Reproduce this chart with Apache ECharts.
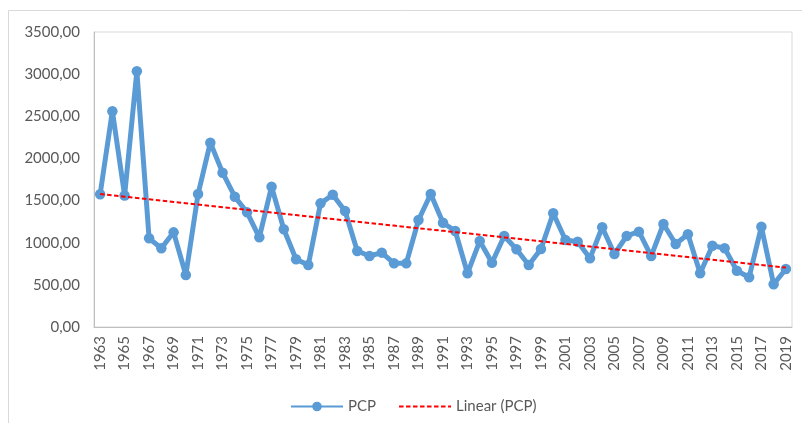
<!DOCTYPE html>
<html>
<head>
<meta charset="utf-8">
<script src="https://cdn.jsdelivr.net/npm/echarts@6/dist/echarts.min.js"></script>
<style>
  html, body { margin: 0; padding: 0; background: #fff; }
  #chart { width: 802px; height: 423px; }
</style>
</head>
<body>
<div id="chart"></div>
<script>
// Annual precipitation (PCP), 1963–2019
const years = [
  '1963','1964','1965','1966','1967','1968','1969','1970','1971','1972',
  '1973','1974','1975','1976','1977','1978','1979','1980','1981','1982',
  '1983','1984','1985','1986','1987','1988','1989','1990','1991','1992',
  '1993','1994','1995','1996','1997','1998','1999','2000','2001','2002',
  '2003','2004','2005','2006','2007','2008','2009','2010','2011','2012',
  '2013','2014','2015','2016','2017','2018','2019'
];
const pcp = [
  1575, 2560, 1560, 3035, 1052, 934, 1123, 617, 1578, 2187,
  1831, 1546, 1360, 1064, 1665, 1159, 803, 736, 1467, 1570,
  1376, 902, 842, 882, 755, 755, 1269, 1578, 1237, 1139,
  637, 1020, 763, 1080, 922, 736, 925, 1349, 1032, 1012,
  815, 1183, 866, 1080, 1131, 842, 1222, 985, 1100, 637,
  965, 934, 668, 590, 1190, 507, 688
];
const yTicks = { min: 0, max: 3500, step: 500 };

// Least-squares linear trend of the PCP series
function linearTrend(vals) {
  const n = vals.length;
  let sx = 0, sy = 0, sxx = 0, sxy = 0;
  vals.forEach((v, i) => { sx += i; sy += v; sxx += i * i; sxy += i * v; });
  const b = (n * sxy - sx * sy) / (n * sxx - sx * sx);
  const a = (sy - b * sx) / n;
  return vals.map((_, i) => a + b * i);
}
const trend = linearTrend(pcp);

const font = 'Lato, "Open Sans", sans-serif';
const textGray = '#595959';
const chart = echarts.init(document.getElementById('chart'));
chart.setOption({
  animation: false,
  backgroundColor: '#fff',
  graphic: [{
    type: 'rect',
    shape: { x: 8.5, y: 10.5, width: 820, height: 430 },
    style: { fill: 'none', stroke: '#d9d9d9', lineWidth: 1 },
    silent: true
  }],
  grid: {
    left: 94, right: 10, top: 32, bottom: 96,
    show: true, borderColor: '#d9d9d9', borderWidth: 1, backgroundColor: 'transparent'
  },
  legend: {
    left: 285, top: 394,
    itemWidth: 52, itemHeight: 12, itemGap: 22,
    textStyle: { fontFamily: font, fontSize: 15, color: textGray },
    data: [
      { name: 'PCP' },
      { name: 'Linear (PCP)', itemStyle: { opacity: 0 } }
    ]
  },
  xAxis: {
    type: 'category',
    data: years,
    boundaryGap: true,
    axisLine: { lineStyle: { color: '#bfbfbf', width: 1 } },
    axisTick: { show: false },
    axisLabel: {
      interval: 1, rotate: 90, margin: 9,
      fontFamily: font, fontSize: 15, color: textGray
    },
    splitLine: { show: false }
  },
  yAxis: {
    type: 'value',
    min: yTicks.min, max: yTicks.max, interval: yTicks.step,
    axisLine: { show: true, lineStyle: { color: '#bfbfbf', width: 1 } },
    axisTick: { show: false },
    splitLine: { show: false },
    axisLabel: {
      margin: 14,
      fontFamily: font, fontSize: 15, color: textGray,
      formatter: v => v.toFixed(2).replace('.', ',')
    }
  },
  series: [
    {
      name: 'PCP',
      type: 'line',
      data: pcp,
      symbol: 'circle',
      symbolSize: 10.5,
      showAllSymbol: true,
      lineStyle: { color: '#5B9BD5', width: 5 },
      itemStyle: { color: '#5B9BD5' },
      z: 2
    },
    {
      name: 'Linear (PCP)',
      type: 'line',
      data: trend,
      symbol: 'none',
      lineStyle: { color: '#FF0000', width: 2, type: [4.5, 2.5] },
      itemStyle: { color: '#FF0000' },
      z: 3
    }
  ]
});
</script>
</body>
</html>
